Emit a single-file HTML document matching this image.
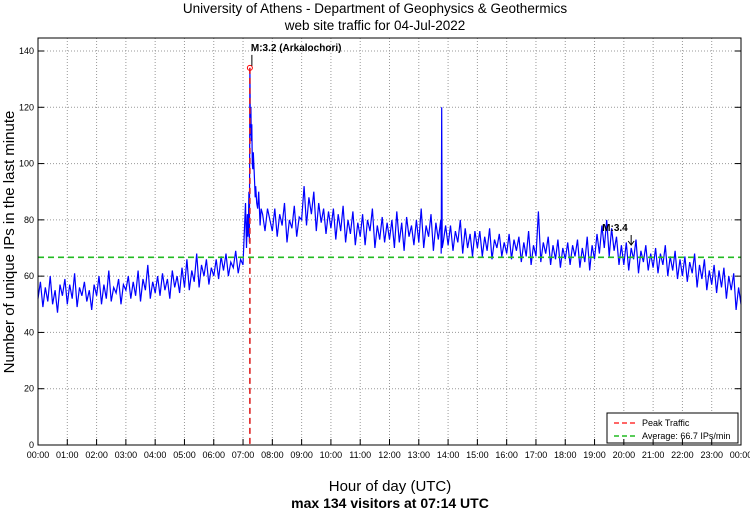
<!DOCTYPE html>
<html><head><meta charset="utf-8"><style>
body{margin:0;background:#fff;}
svg{display:block;font-family:"Liberation Sans",sans-serif;}
</style></head><body>
<svg id="chart" width="750" height="511" viewBox="0 0 750 511">
<text x="375" y="13" font-size="13.5" text-anchor="middle">University of Athens - Department of Geophysics &amp; Geothermics</text>
<text x="375" y="30" font-size="13.5" text-anchor="middle">web site traffic for 04-Jul-2022</text>
<text transform="translate(14,242) rotate(-90)" font-size="15" text-anchor="middle">Number of unique IPs in the last minute</text>
<text x="390" y="491" font-size="15" text-anchor="middle">Hour of day (UTC)</text>
<text x="390" y="508" font-size="14" font-weight="bold" text-anchor="middle">max 134 visitors at 07:14 UTC</text>
<g id="grid"></g><g id="series"></g><g id="overlay"></g><g id="axes"></g>
</svg>
<script>
const yTicks=[0,20,40,60,80,100,120,140];
const hourLabels=["00:00","01:00","02:00","03:00","04:00","05:00","06:00","07:00","08:00","09:00","10:00","11:00","12:00","13:00","14:00","15:00","16:00","17:00","18:00","19:00","20:00","21:00","22:00","23:00","00:00"];
const baseVisitors=[
52,58,49,56,51,60,50,55,47,57,53,59,
50,57,52,61,49,56,53,58,51,55,48,57,
53,60,50,57,52,62,51,56,54,59,50,57,
55,60,52,58,53,62,51,59,55,64,52,58,
54,60,53,61,55,59,52,62,56,60,54,63,
56,66,55,62,58,68,56,64,60,66,57,63,
60,66,59,67,62,68,60,65,63,69,61,66,
64,86,74,110,98,88,84,78,82,76,84,80,
76,84,74,82,78,86,72,80,77,85,74,81,
80,92,78,88,82,90,76,86,79,84,75,83,
77,84,73,82,76,85,72,80,75,83,71,79,
74,82,71,80,76,84,70,78,73,81,72,79,
73,80,70,83,72,79,69,81,74,78,71,80,
72,84,70,78,74,82,69,79,73,80,72,78,
71,78,69,76,72,80,68,77,70,75,67,76,
70,76,67,74,69,77,66,73,70,75,67,72,
68,75,66,73,69,74,65,72,67,76,64,71,
67,83,65,72,68,74,64,71,66,73,63,70,
66,72,64,71,67,73,63,70,65,74,62,71,
66,75,68,78,70,80,67,77,69,74,64,71,
64,72,62,70,66,73,61,69,65,71,62,68,
63,70,61,68,64,71,60,67,62,69,59,66,
60,67,58,65,61,68,56,64,59,66,55,62,
57,64,54,62,56,63,52,60,55,61,48,56,50];
const spikeMinutes=[427,429,431,432,433,434,436,437,438,439,441,443,446,448,452,457,826,827,828];
const spikeValues=[70,82,78,90,72,134,120,108,114,100,104,96,92,86,90,84,68,120,70];
const peakMinute=434, peakValue=134, averageValue=66.7;
const quakeMinute=1215;

const X0=38,X1=741,Y0=445,YT=38;
const x=m=>X0+m/1440*(X1-X0);
const y=v=>Y0-v/140*(Y0-51);
const NS="http://www.w3.org/2000/svg";
function mk(tag,parent,attrs){const e=document.createElementNS(NS,tag);for(const k in attrs)e.setAttribute(k,attrs[k]);parent.appendChild(e);return e;}
const grid=document.getElementById('grid'),axes=document.getElementById('axes'),series=document.getElementById('series'),ov=document.getElementById('overlay');
mk('rect',grid,{x:X0,y:YT,width:X1-X0,height:Y0-YT,fill:'#fff'});
hourLabels.forEach((l,i)=>{const px=x(i*60);
 if(i>0&&i<24){const g=mk('line',grid,{x1:px,x2:px,y1:YT,y2:Y0,stroke:'#999','stroke-dasharray':'1,2','stroke-width':1});
 }
 const t=mk('line',axes,{x1:px,x2:px,y1:Y0,y2:Y0-6,stroke:'#000'});
 
 const tx=mk('text',axes,{x:px,y:Y0+13,'font-size':9,'text-anchor':'middle'});tx.textContent=l;
 });
yTicks.forEach(v=>{const py=y(v);
 if(v>0){const g=mk('line',grid,{x1:X0,x2:X1,y1:py,y2:py,stroke:'#999','stroke-dasharray':'1,2','stroke-width':1});
 }
 mk('line',axes,{x1:X0,x2:X0+6,y1:py,y2:py,stroke:'#000'});mk('line',axes,{x1:X1,x2:X1-6,y1:py,y2:py,stroke:'#000'});
 const tx=mk('text',axes,{x:X0-4,y:py+3,'font-size':9,'text-anchor':'end'});tx.textContent=v;
 });
const frame=mk('rect',axes,{x:X0,y:YT,width:X1-X0,height:Y0-YT,fill:'none',stroke:'#000'});

let pts=baseVisitors.map((v,i)=>[i*5,v]);
spikeMinutes.forEach((m,i)=>pts.push([m,spikeValues[i]]));
pts.sort((a,b)=>a[0]-b[0]);
const line=mk('polyline',series,{points:pts.map(p=>x(p[0]).toFixed(1)+','+y(p[1]).toFixed(1)).join(' '),fill:'none',stroke:'#0000ff','stroke-width':1.2});

const av=mk('line',ov,{x1:X0,x2:X1,y1:y(averageValue),y2:y(averageValue),stroke:'#22bb22','stroke-width':1.6,'stroke-dasharray':'6,4'});

const pk=mk('line',ov,{x1:x(peakMinute),x2:x(peakMinute),y1:y(peakValue),y2:Y0,stroke:'#dd2222','stroke-width':1.6,'stroke-dasharray':'6,4'});

const pc=mk('circle',ov,{cx:x(peakMinute),cy:y(peakValue),r:2.5,fill:'none',stroke:'#ff0000','stroke-width':1});

const pa=mk('text',ov,{x:x(peakMinute)+1,y:y(peakValue)-17,'font-size':10,'font-weight':'bold'});pa.textContent='M:3.2 (Arkalochori)';

mk('line',ov,{x1:x(peakMinute)+2,x2:x(peakMinute)+2,y1:y(peakValue)-13,y2:y(peakValue)-2,stroke:'#000'});
const qa=mk('text',ov,{x:x(quakeMinute)-29,y:231,'font-size':10,'font-weight':'bold'});qa.textContent='M:3.4';

mk('line',ov,{x1:x(quakeMinute),x2:x(quakeMinute),y1:235,y2:245,stroke:'#000'});
mk('path',ov,{d:`M${x(quakeMinute)-3},241 L${x(quakeMinute)},245 L${x(quakeMinute)+3},241`,fill:'none',stroke:'#000'});
const lg=mk('g',ov,{});
mk('rect',lg,{x:607,y:413,width:131,height:30,fill:'#fff',stroke:'#000'});
mk('line',lg,{x1:614,x2:637,y1:423,y2:423,stroke:'#ff3333','stroke-width':1.6,'stroke-dasharray':'5,3'});
mk('line',lg,{x1:614,x2:637,y1:436,y2:436,stroke:'#22bb22','stroke-width':1.6,'stroke-dasharray':'5,3'});
const l1=mk('text',lg,{x:642,y:426,'font-size':9});l1.textContent='Peak Traffic';

const l2=mk('text',lg,{x:642,y:439,'font-size':9});l2.textContent='Average: 66.7 IPs/min';

</script>
</body></html>
